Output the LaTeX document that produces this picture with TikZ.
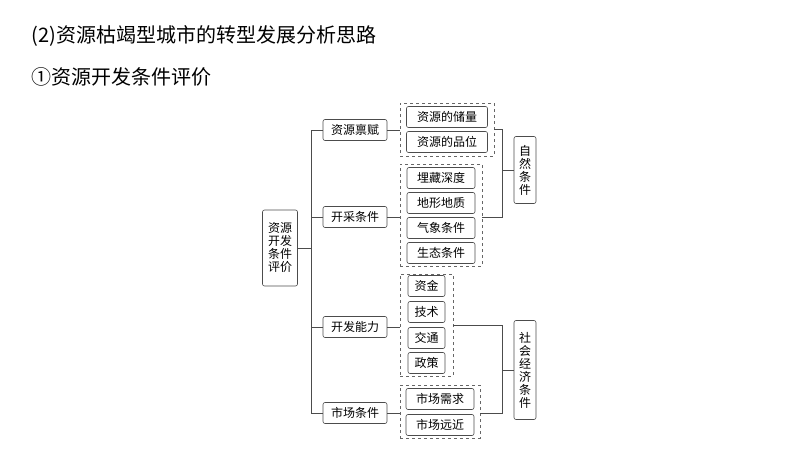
\documentclass[tikz,border=0pt]{standalone}
\usepackage{fontspec}
\setmainfont{Noto Sans CJK SC}
\begin{document}
\begin{tikzpicture}[x=1pt,y=-1pt,
 bx/.style={draw=black!70,rounded corners=2pt,inner sep=1.5pt,font=\fontsize{12}{13}\selectfont,line width=0.6pt},
 grp/.style={draw=black!60,dashed,line width=0.5pt},
 ln/.style={draw=black!70,line width=0.6pt}]
\useasboundingbox (0,0) rectangle (800,450);
\node[anchor=west,font=\fontsize{20}{24}\selectfont] (t1) at (28,36) {(2)资源枯竭型城市的转型发展分析思路};
\node[anchor=west,font=\fontsize{20}{24}\selectfont] (t2) at (28,77) {①资源开发条件评价};
\node[bx,minimum width=35pt,minimum height=76pt,align=center] (root) at (280,248) {资源\\开发\\条件\\评价};
\foreach \n/\t/\y in {a/资源禀赋/130,b/开采条件/217,c/开发能力/327,d/市场条件/413}
  \node[bx,minimum width=64pt,minimum height=21pt] (\n) at (355,\y) {\t};
\foreach \n/\t/\y in {a1/资源的储量/117,a2/资源的品位/142}
  \node[bx,minimum width=81pt,minimum height=21pt] (\n) at (447,\y) {\t};
\foreach \n/\t/\y in {b1/埋藏深度/178,b2/地形地质/203,b3/气象条件/228,b4/生态条件/253}
  \node[bx,minimum width=68pt,minimum height=21pt] (\n) at (441,\y) {\t};
\foreach \n/\t/\y in {c1/资金/286,c2/技术/312,c3/交通/338,c4/政策/363}
  \node[bx,minimum width=37pt,minimum height=21pt] (\n) at (426.5,\y) {\t};
\foreach \n/\t/\y in {d1/市场需求/399,d2/市场远近/425}
  \node[bx,minimum width=68pt,minimum height=21pt] (\n) at (440,\y) {\t};
\node[grp,minimum width=94pt,minimum height=53pt] (ga) at (447,129.5) {};
\node[grp,minimum width=82pt,minimum height=102pt] (gb) at (441,215) {};
\node[grp,minimum width=53pt,minimum height=102pt] (gc) at (426.5,325) {};
\node[grp,minimum width=80pt,minimum height=53pt] (gd) at (440,411.5) {};
\node[bx,minimum width=22pt,minimum height=67pt,align=center,inner sep=1pt] (n) at (525,170) {自\\然\\条\\件};
\node[bx,minimum width=22pt,minimum height=99pt,align=center,inner sep=1pt] (s) at (525,370) {社\\会\\经\\济\\条\\件};
\coordinate (tr) at (311,248);
\draw[ln] (root.east) -- (tr);
\draw[ln] (a.west) -| (311,130) -- (tr);
\draw[ln] (d.west) -| (311,413) -- (tr);
\draw[ln] (b.west) -- (311,217);
\draw[ln] (c.west) -- (311,327);
\draw[ln] (a.east) -- (ga.west|-a.east);
\draw[ln] (b.east) -- (gb.west|-b.east);
\draw[ln] (c.east) -- (gc.west|-c.east);
\draw[ln] (d.east) -- (gd.west|-d.east);
\draw[ln] (ga.east) -- (502,129.5) -- (502,217) -- (gb.east|-b.east);
\draw[ln] (502,170) -- (n.west);
\draw[ln] (gc.east) -- (502,325) -- (502,413) -- (gd.east|-d.east);
\draw[ln] (502,370) -- (s.west);
\end{tikzpicture}
\end{document}
